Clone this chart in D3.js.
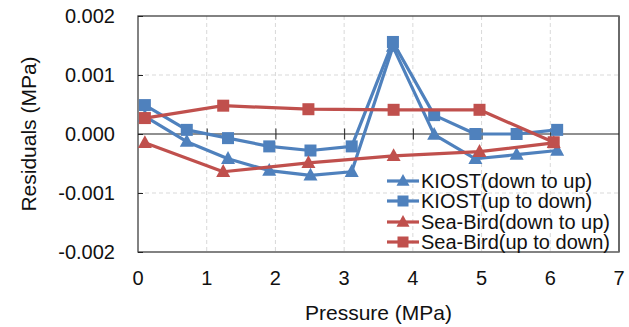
<!DOCTYPE html>
<html><head><meta charset="utf-8">
<script src="https://cdn.jsdelivr.net/npm/d3@7"></script>
<style>
html,body{margin:0;padding:0;background:#fff;}
svg{display:block;font-family:"Liberation Sans",Arial,sans-serif;}
</style></head>
<body><svg id="c" width="629" height="327"></svg>
<script>
const kiostX = [0.1, 0.71, 1.31, 1.91, 2.51, 3.11, 3.71, 4.31, 4.91, 5.51, 6.1];
const kiostDownUp = [0.00030, -0.00013, -0.00042, -0.00062, -0.00070, -0.00064, 0.00148, -0.00001, -0.00042, -0.00035, -0.00028];
const kiostUpDown = [0.00049, 0.00007, -0.00007, -0.00021, -0.00028, -0.00021, 0.00156, 0.00032, 0.0, 0.0, 0.00007];
const seabirdX = [0.1, 1.24, 2.48, 3.72, 4.97, 6.05];
const seabirdDownUp = [-0.00015, -0.00064, -0.00049, -0.00037, -0.00030, -0.00015];
const seabirdUpDown = [0.00027, 0.00048, 0.00042, 0.00041, 0.00041, -0.00014];
const xTicks = [0, 1, 2, 3, 4, 5, 6, 7];
const yTicks = [0.002, 0.001, 0, -0.001, -0.002];
const seriesNames = ["KIOST(down to up)", "KIOST(up to down)", "Sea-Bird(down to up)", "Sea-Bird(up to down)"];

const blue = "#4F81BD", red = "#C0504D";
const series = [
  {name: seriesNames[0], xs: kiostX, ys: kiostDownUp, color: blue, marker: "tri"},
  {name: seriesNames[1], xs: kiostX, ys: kiostUpDown, color: blue, marker: "sq"},
  {name: seriesNames[2], xs: seabirdX, ys: seabirdDownUp, color: red, marker: "tri"},
  {name: seriesNames[3], xs: seabirdX, ys: seabirdUpDown, color: red, marker: "sq"}
];

const L = 138, R = 619, T = 16, B = 252;
const x = d3.scaleLinear().domain([0, 7]).range([L, R]);
const y = d3.scaleLinear().domain([-0.002, 0.002]).range([B, T]);
const svg = d3.select("#c");

// gridlines
const g = svg.append("g");
g.selectAll("line.vx").data(xTicks.filter(t => t > 0 && t < 7)).join("line")
  .attr("x1", d => x(d)).attr("x2", d => x(d)).attr("y1", T).attr("y2", B)
  .attr("stroke", "#D9D9D9").attr("stroke-width", 1).attr("stroke-dasharray", "4,3");
g.selectAll("line.hy").data(yTicks.filter(t => t !== 0 && t > -0.002 && t < 0.002)).join("line")
  .attr("x1", L).attr("x2", R).attr("y1", d => y(d)).attr("y2", d => y(d))
  .attr("stroke", "#D9D9D9").attr("stroke-width", 1).attr("stroke-dasharray", "4,3");

// plot border
svg.append("rect").attr("x", L).attr("y", T).attr("width", R - L).attr("height", B - T)
  .attr("fill", "none").attr("stroke", "#404040").attr("stroke-width", 1.3);
svg.append("line").attr("x1", R).attr("x2", R).attr("y1", T).attr("y2", B)
  .attr("stroke", "#6a6a6a").attr("stroke-width", 2);

// x axis at zero with crossing ticks
const xAxis = d3.axisBottom(x).tickValues(xTicks.filter(t => t > 0 && t < 7)).tickSize(11).tickFormat("");
const xa = svg.append("g").attr("transform", `translate(0,${y(0) - 5.5})`).call(xAxis);
xa.select(".domain").remove();
xa.selectAll(".tick line").attr("stroke", "#222").attr("stroke-width", 1);
svg.append("line").attr("x1", L).attr("x2", R).attr("y1", y(0)).attr("y2", y(0))
  .attr("stroke", "#222").attr("stroke-width", 1.2);

// y axis ticks (inside)
const yAxis = d3.axisRight(y).tickValues(yTicks).tickSize(5).tickFormat("");
const ya = svg.append("g").attr("transform", `translate(${L},0)`).call(yAxis);
ya.select(".domain").remove();
ya.selectAll(".tick line").attr("stroke", "#222");

// tick labels
svg.append("g").selectAll("text").data(yTicks).join("text")
  .attr("x", 115).attr("y", d => y(d)).attr("dy", "0.36em").attr("text-anchor", "end")
  .attr("font-size", 20).attr("fill", "#111").text(d => d3.format(".3f")(d).replace("−", "-"));
svg.append("g").selectAll("text").data(xTicks).join("text")
  .attr("x", d => x(d)).attr("y", 278).attr("dy", "0.36em").attr("text-anchor", "middle")
  .attr("font-size", 20).attr("fill", "#111").text(d => d);

// axis titles
svg.append("text").attr("x", x(3.5)).attr("y", 312).attr("dy", "0.36em").attr("text-anchor", "middle")
  .attr("font-size", 21).attr("fill", "#111").text("Pressure (MPa)");
svg.append("text").attr("transform", `translate(28,${(T + B) / 2}) rotate(-90)`).attr("dy", "0.36em")
  .attr("text-anchor", "middle").attr("font-size", 21).attr("fill", "#111").text("Residuals (MPa)");

function drawMarker(sel, type, color, cx, cy, s) {
  if (type === "sq") {
    sel.append("rect").attr("x", cx - s / 2).attr("y", cy - s / 2).attr("width", s).attr("height", s).attr("fill", color);
  } else {
    const h = s * 0.95;
    sel.append("path").attr("d", `M${cx},${cy - h * 0.62}L${cx + s / 2 + 0.5},${cy + h * 0.42}L${cx - s / 2 - 0.5},${cy + h * 0.42}Z`).attr("fill", color);
  }
}

// series
const line = d3.line().x(d => x(d[0])).y(d => y(d[1]));
series.forEach(s => {
  const pts = s.xs.map((v, i) => [v, s.ys[i]]);
  const gs = svg.append("g");
  gs.append("path").attr("d", line(pts)).attr("fill", "none").attr("stroke", s.color)
    .attr("stroke-width", 3.2).attr("stroke-linejoin", "round");
  pts.forEach(p => drawMarker(gs, s.marker, s.color, x(p[0]), y(p[1]), s.marker === "sq" ? 12 : 13));
});

// legend
const legY = [181, 201, 222, 242];
series.forEach((s, i) => {
  const gl = svg.append("g");
  gl.append("line").attr("x1", 387).attr("x2", 419).attr("y1", legY[i]).attr("y2", legY[i])
    .attr("stroke", s.color).attr("stroke-width", 3.2);
  drawMarker(gl, s.marker, s.color, 403, legY[i], s.marker === "sq" ? 11 : 12);
  gl.append("text").attr("x", 421).attr("y", legY[i]).attr("dy", "0.36em").attr("font-size", 20)
    .attr("fill", "#111").text(s.name);
});
</script></body></html>
